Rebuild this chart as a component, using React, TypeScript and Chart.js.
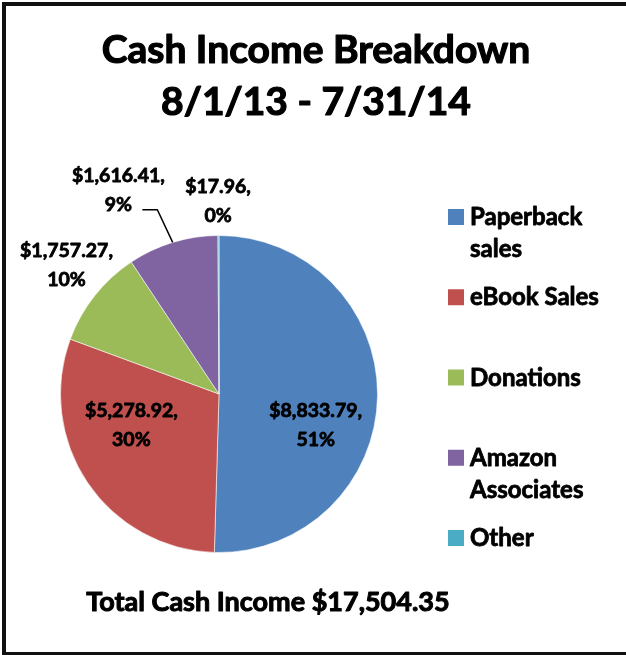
import React, { useEffect, useRef } from "react";
import { Chart, registerables } from "chart.js";
Chart.register(...registerables);

// ---- data ----
const categories = ["Paperback sales", "eBook Sales", "Donations", "Amazon Associates", "Other"];
const amounts = [8833.79, 5278.92, 1757.27, 1616.41, 17.96];
const percentLabels = ["51%", "30%", "10%", "9%", "0%"];
const sliceColors = ["#4F81BD", "#C0504D", "#9BBB59", "#8064A2", "#4BACC6"];
const titleLines = ["Cash Income Breakdown", "8/1/13 - 7/31/14"];
const totalPrefix = "Total Cash Income ";

// label placement relative to pie centre, in units of the radius
const labelPlacement: number[][] = [
  [0.61, 0.195],
  [-0.553, 0.195],
  [-0.962, -0.818],
  [-0.635, -1.292],
  [-0.006, -1.223],
];
const leaderLineFor = [false, false, false, true, false];

const FONT = "Lato, 'Open Sans', sans-serif";

function money(v: number): string {
  const fixed = v.toFixed(2);
  const [intPart, dec] = fixed.split(".");
  const withCommas = intPart.replace(/\B(?=(\d{3})+(?!\d))/g, ",");
  return "$" + withCommas + "." + dec;
}

function wrap(ctx: CanvasRenderingContext2D, text: string, maxW: number): string[] {
  const words = text.split(" ");
  const lines: string[] = [];
  let cur = "";
  for (const w of words) {
    const test = cur ? cur + " " + w : w;
    if (cur && ctx.measureText(test).width > maxW) {
      lines.push(cur);
      cur = w;
    } else cur = test;
  }
  if (cur) lines.push(cur);
  return lines;
}

function heavyText(ctx: CanvasRenderingContext2D, t: string, x: number, y: number, w = 0.8) {
  ctx.lineWidth = w;
  ctx.strokeStyle = ctx.fillStyle as string;
  ctx.lineJoin = "round";
  ctx.strokeText(t, x, y);
  ctx.fillText(t, x, y);
}

const overlay = {
  id: "overlay",
  beforeDraw(chart: any) {
    const ctx = chart.ctx as CanvasRenderingContext2D;
    ctx.save();
    ctx.fillStyle = "#ffffff";
    ctx.fillRect(0, 0, chart.width, chart.height);
    ctx.fillStyle = "#111111";
    ctx.fillRect(2, 2, chart.width - 2, 4);
    ctx.fillRect(2, 2, 4, chart.height - 2);
    ctx.fillRect(2, chart.height - 3, chart.width - 2, 3);
    ctx.restore();
  },
  afterDraw(chart: any) {
    const ctx = chart.ctx as CanvasRenderingContext2D;
    ctx.save();
    ctx.fillStyle = "#000000";
    ctx.textAlign = "center";
    ctx.textBaseline = "alphabetic";

    // title
    ctx.font = `bold 39px ${FONT}`;
    heavyText(ctx, titleLines[0], 316, 63, 1.2);
    heavyText(ctx, titleLines[1], 316, 115, 1.2);

    // data labels
    const meta = chart.getDatasetMeta(0);
    const a0 = meta.data[0] as any;
    const cx = a0.x, cy = a0.y, r = a0.outerRadius;
    ctx.font = `bold 19.5px ${FONT}`;
    amounts.forEach((v, i) => {
      const [fx, fy] = labelPlacement[i];
      const x = cx + fx * r;
      const y = cy + fy * r;
      ctx.fillStyle = "#000000";
      heavyText(ctx, money(v) + ",", x, y - 14.5 + 7);
      heavyText(ctx, percentLabels[i], x, y + 14.5 + 7);
      if (leaderLineFor[i]) {
        const arc = meta.data[i] as any;
        const mid = (arc.startAngle + arc.endAngle) / 2;
        const ex = cx + Math.cos(mid) * r;
        const ey = cy + Math.sin(mid) * r;
        ctx.beginPath();
        ctx.strokeStyle = "#000000";
        ctx.lineWidth = 1.5;
        ctx.moveTo(x + 24, y + 20.5);
        ctx.lineTo(x + 39, y + 20.5);
        ctx.lineTo(ex, ey);
        ctx.stroke();
      }
    });

    // legend
    ctx.textAlign = "left";
    ctx.font = `bold 24px ${FONT}`;
    const legendTop = 217;
    const legendStep = 80.25;
    categories.forEach((c, i) => {
      const y = legendTop + i * legendStep;
      ctx.fillStyle = sliceColors[i];
      ctx.fillRect(448, y - 8, 16, 16);
      ctx.fillStyle = "#000000";
      const lines = wrap(ctx, c, 150);
      lines.forEach((ln, k) => heavyText(ctx, ln, 470, y + 8 + k * 32));
    });

    // total
    const total = amounts.reduce((s, v) => s + v, 0);
    ctx.textAlign = "center";
    ctx.font = `bold 27px ${FONT}`;
    ctx.fillStyle = "#000000";
    heavyText(ctx, totalPrefix + money(total), 268, 611, 1);

    // keep the right edge open (no right border in the original)
    ctx.fillStyle = "#ffffff";
    ctx.fillRect(chart.width - 4, 6, 4, chart.height - 9);
    ctx.restore();
  },
};

export default function App() {
  const ref = useRef<HTMLCanvasElement | null>(null);
  useEffect(() => {
    if (!ref.current) return;
    const chart = new Chart(ref.current, {
      type: "pie",
      data: {
        labels: categories,
        datasets: [
          {
            data: amounts,
            backgroundColor: sliceColors,
            borderColor: "rgba(255,255,255,0.55)",
            borderWidth: 1,
          },
        ],
      },
      options: {
        responsive: false,
        animation: false,
        devicePixelRatio: 1,
        layout: { padding: { left: 60, right: 248, top: 235, bottom: 102 } },
        plugins: {
          legend: { display: false },
          title: { display: false },
          tooltip: { enabled: false },
        },
      },
      plugins: [overlay],
    } as any);
    return () => chart.destroy();
  }, []);
  return (
    <canvas
      ref={ref}
      width={626}
      height={655}
      style={{ position: "fixed", left: 0, top: 0, width: 626, height: 655, display: "block" }}
    />
  );
}
